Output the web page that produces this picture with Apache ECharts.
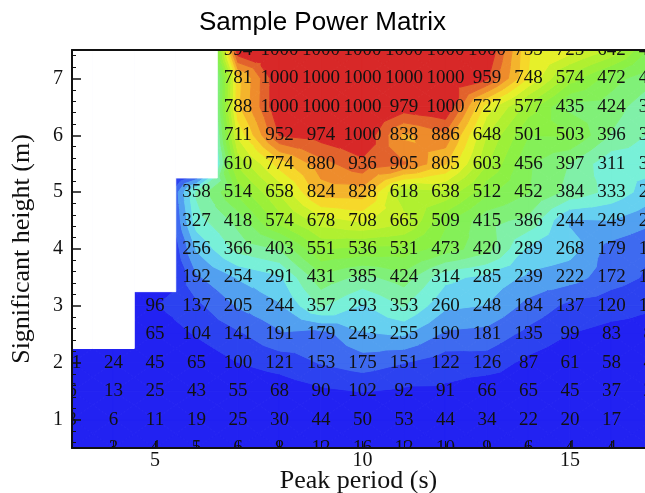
<!DOCTYPE html>
<html>
<head>
    <meta charset="utf-8">
    <script src="https://cdn.jsdelivr.net/npm/echarts@6/dist/echarts.min.js"></script>
    <style>
        html, body { margin: 0; padding: 0; background: #fff; }
        #chart { width: 645px; height: 493px; }
    </style>
</head>
<body>
    <div id="chart"></div>
    <script type="text/javascript">
        // peak period (s) columns and significant height (m) rows
        var periods = [3, 4, 5, 6, 7, 8, 9, 10, 11, 12, 13, 14, 15, 16, 17];
        var heights = [0.5, 1, 1.5, 2, 2.5, 3, 3.5, 4, 4.5, 5, 5.5, 6, 6.5, 7, 7.5];

        // power per row (null = no data, left white)
        var h0_5 = [1, 3, 4, 5, 6, 8, 12, 16, 12, 10, 9, 6, 4, 4, 3];
        var h1_0 = [3, 6, 11, 19, 25, 30, 44, 50, 53, 44, 34, 22, 20, 17, 12];
        var h1_5 = [6, 13, 25, 43, 55, 68, 90, 102, 92, 91, 66, 65, 45, 37, 25];
        var h2_0 = [11, 24, 45, 65, 100, 121, 153, 175, 151, 122, 126, 87, 61, 58, 45];
        var h2_5 = [null, null, 65, 104, 141, 191, 179, 243, 255, 190, 181, 135, 99, 83, 80];
        var h3_0 = [null, null, 96, 137, 205, 244, 357, 293, 353, 260, 248, 184, 137, 120, 105];
        var h3_5 = [null, null, null, 192, 254, 291, 431, 385, 424, 314, 285, 239, 222, 172, 140];
        var h4_0 = [null, null, null, 256, 366, 403, 551, 536, 531, 473, 420, 289, 268, 179, 150];
        var h4_5 = [null, null, null, 327, 418, 574, 678, 708, 665, 509, 415, 386, 244, 249, 210];
        var h5_0 = [null, null, null, 358, 514, 658, 824, 828, 618, 638, 512, 452, 384, 333, 270];
        var h5_5 = [null, null, null, null, 610, 774, 880, 936, 905, 805, 603, 456, 397, 311, 320];
        var h6_0 = [null, null, null, null, 711, 952, 974, 1000, 838, 886, 648, 501, 503, 396, 340];
        var h6_5 = [null, null, null, null, 788, 1000, 1000, 1000, 979, 1000, 727, 577, 435, 424, 360];
        var h7_0 = [null, null, null, null, 781, 1000, 1000, 1000, 1000, 1000, 959, 748, 574, 472, 410];
        var h7_5 = [null, null, null, null, 994, 1000, 1000, 1000, 1000, 1000, 1000, 755, 725, 642, 480];
        var rows = [h0_5, h1_0, h1_5, h2_0, h2_5, h3_0, h3_5, h4_0, h4_5, h5_0, h5_5, h6_0, h6_5, h7_0, h7_5];

        // tick positions
        var xLabels = [5, 10, 15];
        var xTicks = [4, 5, 6, 7, 8, 9, 10, 11, 12, 13, 14, 15, 16];
        var yLabels = [1, 2, 3, 4, 5, 6, 7];
        var yMinor = [];
        for (var m = 0.6; m < 7.45; m += 0.2) {
            if (Math.abs(m - Math.round(m)) > 0.05) yMinor.push(+m.toFixed(1));
        }

        // contour levels and colours
        var levels = [0, 100, 150, 200, 250, 300, 350, 400, 450, 500, 550, 600, 650, 700, 750, 800, 850, 900, 950, 1e9];
        var bandColors = ['#2222f2', '#2c42f0', '#3e6af0', '#52a0f0', '#66d0f0', '#78f0d8', '#80f0a8', '#80f078',
            '#84f058', '#8cf044', '#9cf038', '#b0f030', '#c8f02c', '#e6f02a', '#f6d82a', '#f4b42c', '#ee8c2c', '#e2622c', '#d82828'];

        var FONT = 'Liberation Serif';

        function clipPoly(poly, level, keepAbove) {
            var out = [];
            for (var k = 0; k < poly.length; k++) {
                var a = poly[k], b = poly[(k + 1) % poly.length];
                var fa = keepAbove ? a.v - level : level - a.v;
                var fb = keepAbove ? b.v - level : level - b.v;
                if (fa >= 0) out.push(a);
                if ((fa >= 0) !== (fb >= 0)) {
                    var t = fa / (fa - fb);
                    out.push({x: a.x + t * (b.x - a.x), y: a.y + t * (b.y - a.y), v: level});
                }
            }
            return out;
        }

        function renderMatrix(params, api) {
            var children = [];
            var nx = periods.length, ny = heights.length;
            function pt(i, j) {
                var v = rows[j][i];
                return {x: periods[i], y: heights[j], v: v == null ? 0 : v};
            }
            // filled contour bands
            for (var j = 0; j < ny - 1; j++) {
                for (var i = 0; i < nx - 1; i++) {
                    var a = pt(i, j), b = pt(i + 1, j), c = pt(i + 1, j + 1), d = pt(i, j + 1);
                    var o = {x: (a.x + b.x) / 2, y: (a.y + d.y) / 2, v: (a.v + b.v + c.v + d.v) / 4};
                    var tris = [[a, b, o], [b, c, o], [c, d, o], [d, a, o]];
                    tris.forEach(function (tri) {
                        var vmin = Math.min(tri[0].v, tri[1].v, tri[2].v);
                        var vmax = Math.max(tri[0].v, tri[1].v, tri[2].v);
                        for (var k = 0; k < bandColors.length; k++) {
                            if (levels[k + 1] < vmin || levels[k] > vmax) continue;
                            var poly = clipPoly(tri, levels[k], true);
                            if (poly.length < 3) continue;
                            poly = clipPoly(poly, levels[k + 1], false);
                            if (poly.length < 3) continue;
                            children.push({
                                type: 'polygon',
                                shape: {points: poly.map(function (p) { return api.coord([p.x, p.y]); })},
                                style: {fill: bandColors[k], stroke: bandColors[k], lineWidth: 1}
                            });
                        }
                    });
                }
            }
            // white mask over cells with no data
            for (var i2 = 0; i2 < nx; i2++) {
                var start = -1;
                for (var j2 = 0; j2 <= ny; j2++) {
                    var isNull = j2 < ny && rows[j2][i2] == null;
                    if (isNull && start < 0) start = j2;
                    if (!isNull && start >= 0) {
                        var p1 = api.coord([periods[i2] - 0.5, heights[j2 - 1] + 0.25]);
                        var p2 = api.coord([periods[i2] + 0.5, heights[start] - 0.25]);
                        children.push({
                            type: 'rect',
                            shape: {x: p1[0], y: p1[1], width: p2[0] - p1[0], height: p2[1] - p1[1]},
                            style: {fill: '#fff', stroke: '#fff', lineWidth: 1}
                        });
                        start = -1;
                    }
                }
            }
            // value labels
            for (var j3 = 0; j3 < ny; j3++) {
                for (var i3 = 0; i3 < nx; i3++) {
                    var val = rows[j3][i3];
                    if (val == null) continue;
                    var p = api.coord([periods[i3], heights[j3]]);
                    children.push({
                        type: 'text',
                        x: p[0],
                        y: p[1],
                        style: {
                            text: String(val),
                            fontFamily: FONT,
                            fontSize: 19,
                            fill: '#111',
                            align: 'center',
                            verticalAlign: 'middle'
                        }
                    });
                }
            }
            return {type: 'group', children: children};
        }

        var option = {
            animation: false,
            title: {
                text: 'Sample Power Matrix',
                left: 'center',
                top: 5,
                textStyle: {fontFamily: 'Liberation Sans', fontSize: 26, fontWeight: 'normal', color: '#000'}
            },
            grid: {left: 72, right: 0, top: 50, bottom: 45, outerBoundsMode: 'none', containLabel: false},
            xAxis: [
                {
                    type: 'value', min: 3, max: 16.81, position: 'bottom',
                    name: 'Peak period (s)', nameLocation: 'middle', nameGap: 20, nameMoveOverlap: false,
                    nameTextStyle: {fontFamily: FONT, fontSize: 26, color: '#111'},
                    axisLine: {show: true, onZero: false, lineStyle: {color: '#111', width: 2}},
                    axisTick: {show: true, inside: true, length: 7, customValues: xTicks, lineStyle: {color: '#111'}},
                    axisLabel: {customValues: xLabels, fontFamily: FONT, fontSize: 20, color: '#111', margin: 3},
                    splitLine: {show: false},
                    z: 10
                },
                {
                    type: 'value', min: 3, max: 16.81, position: 'top',
                    axisLine: {show: true, onZero: false, lineStyle: {color: '#111', width: 2}},
                    axisTick: {show: false}, axisLabel: {show: false}, splitLine: {show: false},
                    z: 10
                }
            ],
            yAxis: [
                {
                    type: 'value', min: 0.5, max: 7.5, position: 'left',
                    name: 'Significant height (m)', nameLocation: 'middle', nameGap: 37, nameMoveOverlap: false,
                    nameTextStyle: {fontFamily: FONT, fontSize: 26, color: '#111'},
                    axisLine: {show: true, onZero: false, lineStyle: {color: '#111', width: 2}},
                    axisTick: {show: true, inside: true, length: 9, customValues: yLabels, lineStyle: {color: '#111', width: 1.5}},
                    axisLabel: {customValues: yLabels, fontFamily: FONT, fontSize: 20, color: '#111', margin: 9},
                    splitLine: {show: false},
                    z: 10
                },
                {
                    type: 'value', min: 0.5, max: 7.5, position: 'left',
                    axisLine: {show: false},
                    axisTick: {show: true, inside: true, length: 4, customValues: yMinor, lineStyle: {color: '#111'}},
                    axisLabel: {show: false}, splitLine: {show: false},
                    z: 10
                }
            ],
            series: [{
                type: 'custom',
                coordinateSystem: 'cartesian2d',
                xAxisIndex: 0,
                yAxisIndex: 0,
                clip: true,
                silent: true,
                data: [[3, 0.5]],
                renderItem: renderMatrix
            }]
        };

        var myChart = echarts.init(document.getElementById('chart'));
        myChart.setOption(option);
    </script>
</body>
</html>
